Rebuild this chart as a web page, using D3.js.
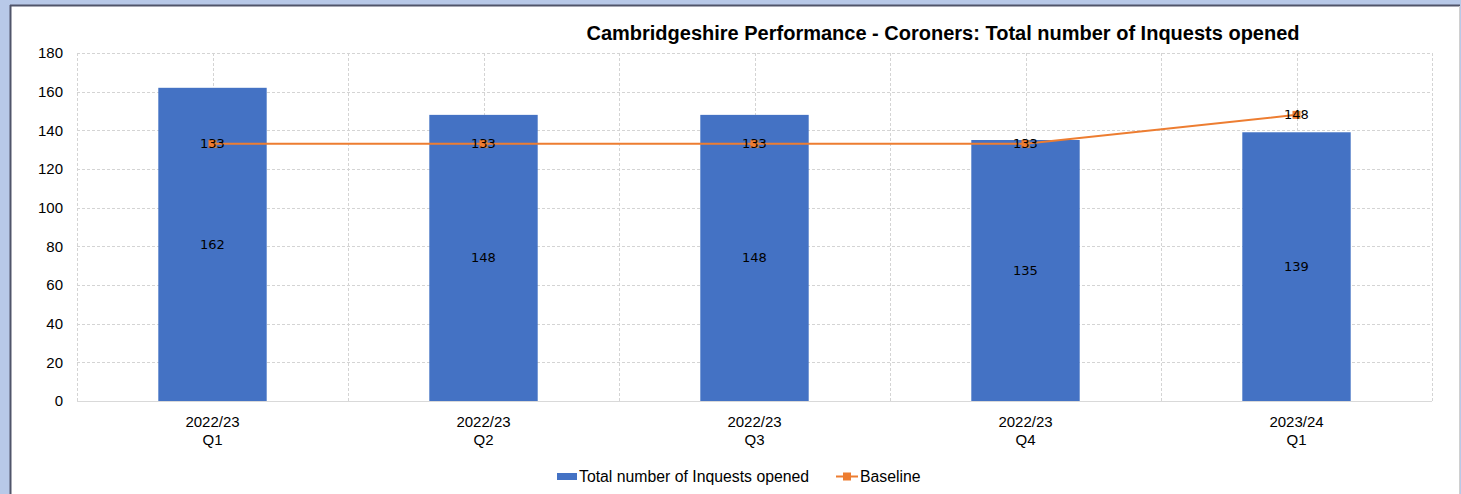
<!DOCTYPE html>
<html><head><meta charset="utf-8">
<script src="https://cdn.jsdelivr.net/npm/d3@7"></script>
<style>
html,body{margin:0;padding:0;background:#b8c9e8;}
svg{display:block;font-family:"Liberation Sans",Arial,sans-serif;}
</style></head><body>
<svg id="chart" width="1461" height="494"></svg>
<script>
const categories = [["2022/23","Q1"],["2022/23","Q2"],["2022/23","Q3"],["2022/23","Q4"],["2023/24","Q1"]];
const inquests = [162, 148, 148, 135, 139];
const baseline = [133, 133, 133, 133, 148];
const yTicks = [0, 20, 40, 60, 80, 100, 120, 140, 160, 180];
const title = "Cambridgeshire Performance - Coroners: Total number of Inquests opened";

(function(){
const svg = d3.select("#chart");
svg.append("rect").attr("x",10).attr("y",5).attr("width",1450).attr("height",489).attr("fill","#fff");
svg.append("line").attr("x1",10).attr("x2",1460).attr("y1",5.5).attr("y2",5.5).attr("stroke","#50556a").attr("stroke-width",2);
svg.append("line").attr("x1",10.5).attr("x2",10.5).attr("y1",5).attr("y2",494).attr("stroke","#50556a").attr("stroke-width",2);
svg.append("line").attr("x1",1459.5).attr("x2",1459.5).attr("y1",6).attr("y2",494).attr("stroke","#d0d0d0").attr("stroke-width",1);

const pL=77, pR=1432, pT=53, pB=401;
const x = d3.scaleBand().domain(d3.range(categories.length)).range([pL,pR]).paddingInner(0).paddingOuter(0);
const y = d3.scaleLinear().domain([0,180]).range([pB,pT]);
const cx = i => x(i)+x.bandwidth()/2;

const grid = svg.append("g");
grid.selectAll("line.h").data(yTicks.filter(d=>d>0)).join("line")
  .attr("x1",pL).attr("x2",pR).attr("y1",d=>Math.round(y(d))+0.5).attr("y2",d=>Math.round(y(d))+0.5)
  .attr("stroke","#d4d4d4").attr("stroke-dasharray","3,2");
const vx = [];
for(let i=0;i<=categories.length;i++) vx.push(pL + i*x.bandwidth());
for(let i=0;i<categories.length;i++) vx.push(cx(i));
grid.selectAll("line.v").data(vx).join("line")
  .attr("x1",d=>Math.round(d)+0.5).attr("x2",d=>Math.round(d)+0.5).attr("y1",pT).attr("y2",pB)
  .attr("stroke","#d4d4d4").attr("stroke-dasharray","3,2");
svg.append("line").attr("x1",pL).attr("x2",pR).attr("y1",pB+0.5).attr("y2",pB+0.5).attr("stroke","#d9d9d9");

const bw = x.bandwidth()*0.4;
svg.selectAll("rect.bar").data(inquests).join("rect")
  .attr("x",(d,i)=>cx(i)-bw/2).attr("width",bw)
  .attr("y",d=>y(d)).attr("height",d=>pB-y(d)).attr("fill","#4472c4");

const line = d3.line().x((d,i)=>cx(i)).y(d=>y(d));
svg.append("path").datum(baseline).attr("d",line).attr("fill","none").attr("stroke","#ed7d31").attr("stroke-width",2);
svg.selectAll("rect.mk").data(baseline).join("rect")
  .attr("x",(d,i)=>cx(i)-4).attr("y",d=>y(d)-4).attr("width",8).attr("height",8).attr("fill","#ed7d31");

svg.selectAll("text.bl").data(inquests).join("text")
  .attr("x",(d,i)=>cx(i)).attr("y",d=>(y(d)+pB)/2).attr("dy","0.35em")
  .attr("text-anchor","middle").attr("font-size",13).attr("font-family","'DejaVu Sans',sans-serif").attr("fill","#000").text(d=>d);
svg.selectAll("text.ll").data(baseline).join("text")
  .attr("x",(d,i)=>cx(i)).attr("y",d=>y(d)).attr("dy","0.35em")
  .attr("text-anchor","middle").attr("font-size",13).attr("font-family","'DejaVu Sans',sans-serif").attr("fill","#000").text(d=>d);

svg.selectAll("text.yt").data(yTicks).join("text")
  .attr("x",63).attr("y",d=>y(d)).attr("dy","0.35em").attr("text-anchor","end")
  .attr("font-size",15).attr("fill","#000").text(d=>d);

const xl = svg.selectAll("text.xt").data(categories).join("text")
  .attr("text-anchor","middle").attr("font-size",15).attr("fill","#000");
xl.append("tspan").attr("x",(d,i)=>cx(i)).attr("y",427).text(d=>d[0]);
xl.append("tspan").attr("x",(d,i)=>cx(i)).attr("y",445).text(d=>d[1]);

svg.append("text").attr("x",943).attr("y",40).attr("text-anchor","middle")
  .attr("font-size",20).attr("font-weight","bold").attr("fill","#000").text(title);

const lg = svg.append("g");
lg.append("rect").attr("x",557).attr("y",473).attr("width",20).attr("height",7).attr("fill","#4472c4");
lg.append("text").attr("x",579).attr("y",482).attr("font-size",15.8).attr("fill","#000").text("Total number of Inquests opened");
lg.append("line").attr("x1",836).attr("x2",858).attr("y1",476.5).attr("y2",476.5).attr("stroke","#ed7d31").attr("stroke-width",2);
lg.append("rect").attr("x",843).attr("y",472.5).attr("width",8).attr("height",8).attr("fill","#ed7d31");
lg.append("text").attr("x",860).attr("y",482).attr("font-size",15.8).attr("fill","#000").text("Baseline");
})();
</script>
</body></html>
